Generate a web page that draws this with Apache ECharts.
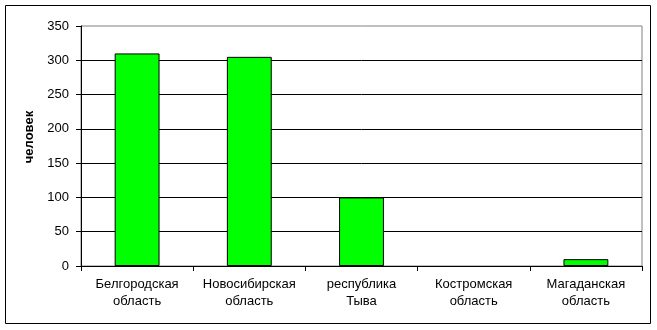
<!DOCTYPE html>
<html>
<head>
<meta charset="utf-8">
<script src="https://cdn.jsdelivr.net/npm/echarts@6/dist/echarts.min.js"></script>
<style>
html,body{margin:0;padding:0;background:#fff;}
#c{width:657px;height:330px;}
</style>
</head>
<body>
<div id="c"></div>
<script>
const categories = ['Белгородская\nобласть', 'Новосибирская\nобласть', 'республика\nТыва', 'Костромская\nобласть', 'Магаданская\nобласть'];
const values = [310, 305, 100, 0, 10];
const yAxisName = 'человек';
const yMin = 0, yMax = 350, yStep = 50;

const chart = echarts.init(document.getElementById('c'), null, {renderer: 'canvas'});
const font = '"Liberation Sans", Arial, sans-serif';
chart.setOption({
  animation: false,
  backgroundColor: '#ffffff',
  graphic: [{
    type: 'rect',
    shape: {x: 5.5, y: 5.5, width: 645, height: 318},
    style: {fill: 'none', stroke: '#000', lineWidth: 1},
    silent: true, z: 0
  }],
  grid: {
    left: 81, right: 15, top: 26, bottom: 64,
    show: true, borderColor: '#808080', borderWidth: 1, backgroundColor: '#fff'
  },
  xAxis: {
    type: 'category',
    data: categories,
    axisLine: {lineStyle: {color: '#000', width: 1}},
    axisTick: {show: true, length: 5, lineStyle: {color: '#000'}},
    axisLabel: {color: '#000', fontFamily: font, fontSize: 13, lineHeight: 17, margin: 10, interval: 0}
  },
  yAxis: {
    type: 'value',
    min: yMin, max: yMax, interval: yStep,
    name: yAxisName,
    nameLocation: 'middle',
    nameGap: 40,
    nameTextStyle: {color: '#000', fontFamily: font, fontSize: 13, fontWeight: 'bold', padding: [0, 0, 0, 18]},
    axisLine: {show: true, lineStyle: {color: '#000', width: 1}},
    axisTick: {show: true, length: 5, lineStyle: {color: '#000'}},
    axisLabel: {color: '#000', fontFamily: font, fontSize: 13, margin: 12},
    splitLine: {show: true, showMaxLine: false, lineStyle: {color: '#000', width: 1}}
  },
  series: [{
    type: 'bar',
    data: values.map(v => v === 0 ? {value: v, itemStyle: {borderWidth: 0}} : v),
    barWidth: '40%',
    itemStyle: {color: '#00ff00', borderColor: '#000', borderWidth: 1}
  }]
});
</script>
</body>
</html>
